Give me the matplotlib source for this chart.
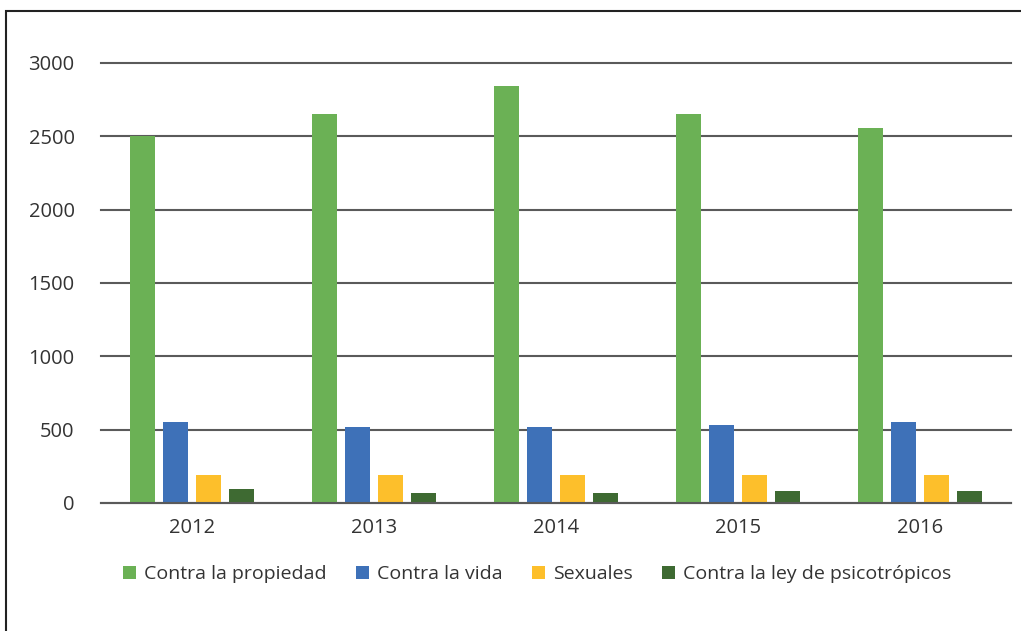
import matplotlib
matplotlib.use("Agg")
import matplotlib.pyplot as plt
import numpy as np
from matplotlib.patches import Rectangle

years = ["2012", "2013", "2014", "2015", "2016"]
series_names = ["Contra la propiedad", "Contra la vida", "Sexuales",
                "Contra la ley de psicotrópicos"]
propiedad = [2500, 2650, 2840, 2650, 2560]
vida = [552, 520, 520, 532, 552]
sexuales = [192, 192, 192, 192, 192]
psicotropicos = [96, 68, 68, 82, 82]
colors = ["#6BB155", "#3E71B8", "#FDBF2B", "#3E6A32"]
yticks = [0, 500, 1000, 1500, 2000, 2500, 3000]

plt.rcParams["font.family"] = ["Open Sans", "DejaVu Sans"]
text_color = "#333333"

fig = plt.figure(figsize=(10.21, 6.31), dpi=100)
ax = fig.add_axes([101 / 1021, 1 - 503 / 631, 910 / 1021, 440 / 631])

x = np.arange(len(years))
width = 0.137
step = 0.18
offsets = (np.arange(4) - 1.5) * step
for vals, off, col, name in zip([propiedad, vida, sexuales, psicotropicos],
                                offsets, colors, series_names):
    ax.bar(x + off, vals, width, color=col, label=name, zorder=2)

ax.set_xlim(-0.5, len(years) - 0.5)
ax.set_ylim(0, 3000)
ax.set_yticks(yticks)
ax.set_xticks(x)
ax.set_xticklabels(years)
ax.grid(axis="y", color="#5a5a5a", lw=1.5, zorder=1)
for gl in ax.get_ygridlines():
    gl.set_clip_on(False)
ax.set_axisbelow(True)
for s in ["top", "right", "left"]:
    ax.spines[s].set_visible(False)
ax.spines["bottom"].set_color("#5a5a5a")
ax.spines["bottom"].set_linewidth(1.5)
ax.spines["bottom"].set_zorder(3)
ax.tick_params(length=0, labelsize=14.5, colors=text_color)
ax.tick_params(axis="y", pad=19)
ax.tick_params(axis="x", pad=11)

fig.legend(loc="center", bbox_to_anchor=(537 / 1021, 1 - 574 / 631), ncol=4,
           frameon=False, fontsize=14, handlelength=0.68, handleheight=0.68,
           handletextpad=0.4, columnspacing=1.5, labelcolor=text_color)

fig.patches.append(Rectangle((6 / 1021, -0.1), 1.1, 1.1 - 11 / 631,
                             transform=fig.transFigure, fill=False,
                             edgecolor="#222222", lw=1.5))

fig.savefig("out.png", dpi=100)
